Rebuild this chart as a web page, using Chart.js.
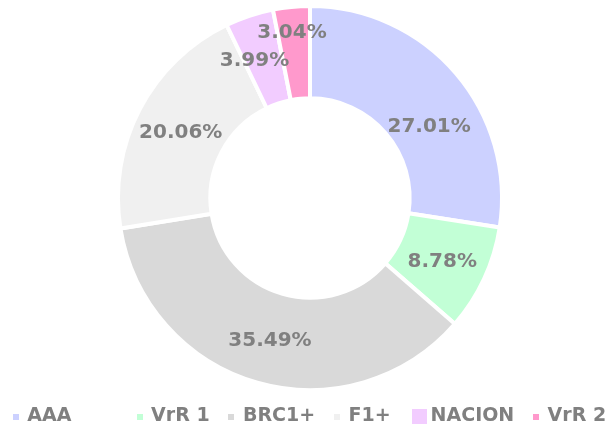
<!DOCTYPE html>
<html><head><meta charset="utf-8">
<script src="https://cdn.jsdelivr.net/npm/chart.js@4/dist/chart.umd.min.js"></script>
<style>html,body{margin:0;padding:0;background:#fff}#wrap{width:609px;height:426px;position:relative}</style>
</head><body><div id="wrap"><canvas id="c"></canvas></div>
<script>
const categories = ['AAA', 'VrR 1', 'BRC1+', 'F1+', 'NACION', 'VrR 2'];
const values = [27.01, 8.78, 35.49, 20.06, 3.99, 3.04];

const sliceColors = ['#ccd1ff', '#c2ffd6', '#d9d9d9', '#f0f0f0', '#f2ccff', '#ff99cc'];
const legendBoxPx = [6, 6, 6, 6, 15, 6];
const legendTrailSpaces = [10, 3, 3, 4, 3, 0];
// label placement style: angular nudge (deg) and radial offset (px) from the slice centroid
const labelAngleNudge = [9, 0, 0, 0, -3.3, -0.6];
const labelRadialNudge = [-6, 0, 0, 0, 4, 22];
const FONT = '"DejaVu Sans", Verdana, sans-serif';
const TEXT_COLOR = '#808080';
const LABEL_PX = 20;

function boxCanvas(i) {
  const s = legendBoxPx[i];
  const c = document.createElement('canvas');
  c.width = s; c.height = s;
  const g = c.getContext('2d');
  g.fillStyle = sliceColors[i];
  g.fillRect(0, 0, s, s);
  return c;
}

const sliceLabels = {
  id: 'sliceLabels',
  afterDatasetsDraw(chart) {
    const ctx = chart.ctx;
    const meta = chart.getDatasetMeta(0);
    ctx.save();
    ctx.font = 'bold ' + LABEL_PX + 'px ' + FONT;
    ctx.fillStyle = TEXT_COLOR;
    ctx.textAlign = 'center';
    ctx.textBaseline = 'alphabetic';
    const capHalf = LABEL_PX * 0.73 / 2;
    meta.data.forEach((arc, i) => {
      const txt = values[i].toFixed(2) + '%';
      const pr = arc.getProps(['x', 'y', 'startAngle', 'endAngle', 'innerRadius', 'outerRadius'], true);
      const mid = (pr.startAngle + pr.endAngle) / 2 + labelAngleNudge[i] * Math.PI / 180;
      const r = (pr.innerRadius + pr.outerRadius) / 2 + labelRadialNudge[i];
      ctx.fillText(txt, pr.x + Math.cos(mid) * r, pr.y + Math.sin(mid) * r + capHalf);
    });
    ctx.restore();
  }
};

new Chart(document.getElementById('c'), {
  type: 'doughnut',
  data: {
    labels: categories,
    datasets: [{
      data: values,
      backgroundColor: sliceColors,
      borderColor: '#ffffff',
      borderWidth: 4,
      hoverOffset: 0,
      clip: false
    }]
  },
  options: {
    responsive: true,
    maintainAspectRatio: false,
    animation: false,
    radius: 192,
    cutout: 96,
    layout: { padding: { left: 11, top: 11, right: 0, bottom: 0 } },
    plugins: {
      tooltip: { enabled: false },
      legend: {
        position: 'bottom',
        maxHeight: 41,
        title: { display: true, text: '', font: { size: 10, lineHeight: 1 }, padding: { top: 0, bottom: 12 } },
        labels: {
          usePointStyle: true,
          boxWidth: 4,
          padding: 0,
          color: TEXT_COLOR,
          font: { family: FONT, size: 19, weight: 'bold' },
          generateLabels: () => categories.map((c, i) => ({
            text: c + ' '.repeat(legendTrailSpaces[i]),
            fillStyle: sliceColors[i],
            strokeStyle: sliceColors[i],
            lineWidth: 0,
            pointStyle: boxCanvas(i),
            hidden: false,
            index: i,
            datasetIndex: 0,
            fontColor: TEXT_COLOR
          }))
        }
      }
    }
  },
  plugins: [sliceLabels]
});
</script>
</body></html>
